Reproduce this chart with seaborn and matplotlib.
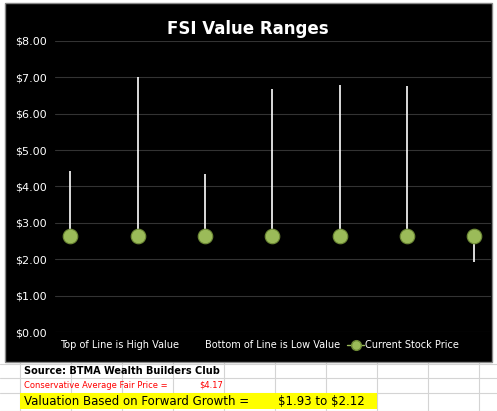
import matplotlib
matplotlib.use("Agg")
import matplotlib.pyplot as plt
import seaborn as sns
import pandas as pd
from matplotlib.lines import Line2D
from matplotlib.patches import Rectangle

sns.set_style("dark")
plt.rcParams['font.family'] = ['DejaVu Sans']
plt.rcParams['text.parse_math'] = False

categories = ["A", "B", "C", "D", "E", "F", "G"]
high_values = [4.42, 7.00, 4.35, 6.68, 6.78, 6.76, 2.63]
low_values = [2.63, 2.63, 2.63, 2.63, 2.63, 2.63, 1.93]
current_price = [2.63, 2.63, 2.63, 2.63, 2.63, 2.63, 2.63]
y_ticks = [0, 1, 2, 3, 4, 5, 6, 7, 8]

df = pd.DataFrame({"cat": categories, "high": high_values, "low": low_values, "price": current_price})

W, H = 497, 411
fig = plt.figure(figsize=(W/100, H/100), dpi=100)
fig.patch.set_facecolor("white")

# spreadsheet grid
for yy in [364, 378, 393, 411]:
    fig.add_artist(Line2D([0, 1], [1-yy/H, 1-yy/H], color="#d4d4d4", lw=0.8, zorder=0))
for xx in [20, 71, 122, 173, 224, 275, 326, 377, 428, 479]:
    fig.add_artist(Line2D([xx/W, xx/W], [0, 1-362/H], color="#d4d4d4", lw=0.8, zorder=0))

# chart box
fig.add_artist(Rectangle((5/W, 1-362/H), 487/W, 359/H, facecolor="black", edgecolor="#888888",
                         lw=1, transform=fig.transFigure, zorder=0.5))

ax = fig.add_axes([55/W, 1-332/H, 436/W, 291/H])
ax.set_zorder(2)
ax.set_facecolor("black")
x = list(range(len(categories)))
ax.vlines(x, df["low"], df["high"], color="white", lw=1.2, zorder=2)
sns.scatterplot(x=x, y=df["price"], ax=ax, s=110, color="#9bbb59", edgecolor="#6e8a36", linewidth=0.8, zorder=3, legend=False)
ax.set_xlim(-0.23, 6.25)
ax.set_ylim(0, 8)
ax.set_yticks(y_ticks)
ax.set_yticklabels([f"${v:.2f}" for v in y_ticks], color="white", fontsize=8)
ax.set_xticks([])
ax.grid(axis="y", color="#333333", lw=0.8)
ax.grid(axis="x", visible=False)
for s in ax.spines.values():
    s.set_visible(False)
ax.tick_params(axis="y", length=0, pad=6)
ax.set_xlabel(""); ax.set_ylabel("")

fig.text(248/W, 1-29/H, "FSI Value Ranges", color="white", fontsize=12, fontweight="bold", ha="center", va="center", zorder=5)

ly = 1-345/H
fig.text(60/W, ly, "Top of Line is High Value", color="white", fontsize=7, va="center", zorder=5)
fig.text(205/W, ly, "Bottom of Line is Low Value", color="white", fontsize=7, va="center", zorder=5)
fig.add_artist(Line2D([347/W, 364/W], [ly, ly], color="#9bbb59", lw=1, zorder=5))
fig.add_artist(Line2D([356/W], [ly], marker="o", color="#9bbb59", markersize=7, markeredgecolor="#6e8a36", zorder=5))
fig.text(365/W, ly, "Current Stock Price", color="white", fontsize=7, va="center", zorder=5)

fig.text(24/W, 1-371/H, "Source: BTMA Wealth Builders Club", color="black", fontsize=7, fontweight="bold", va="center", zorder=5)
fig.text(24/W, 1-385/H, "Conservative Average Fair Price =", color="red", fontsize=6, va="center", zorder=5)
fig.text(223/W, 1-385/H, "$4.17", color="red", fontsize=6, va="center", ha="right", zorder=5)
fig.add_artist(Rectangle((20/W, 1-409/H), 357/W, 16/H, facecolor="yellow", edgecolor="none",
                         transform=fig.transFigure, zorder=1))
fig.text(24/W, 1-401/H, "Valuation Based on Forward Growth =", color="black", fontsize=8.5, va="center", zorder=5)
fig.text(278/W, 1-401/H, "$1.93 to $2.12", color="black", fontsize=8.5, va="center", zorder=5)

fig.savefig("out.png", dpi=100, facecolor="white")
